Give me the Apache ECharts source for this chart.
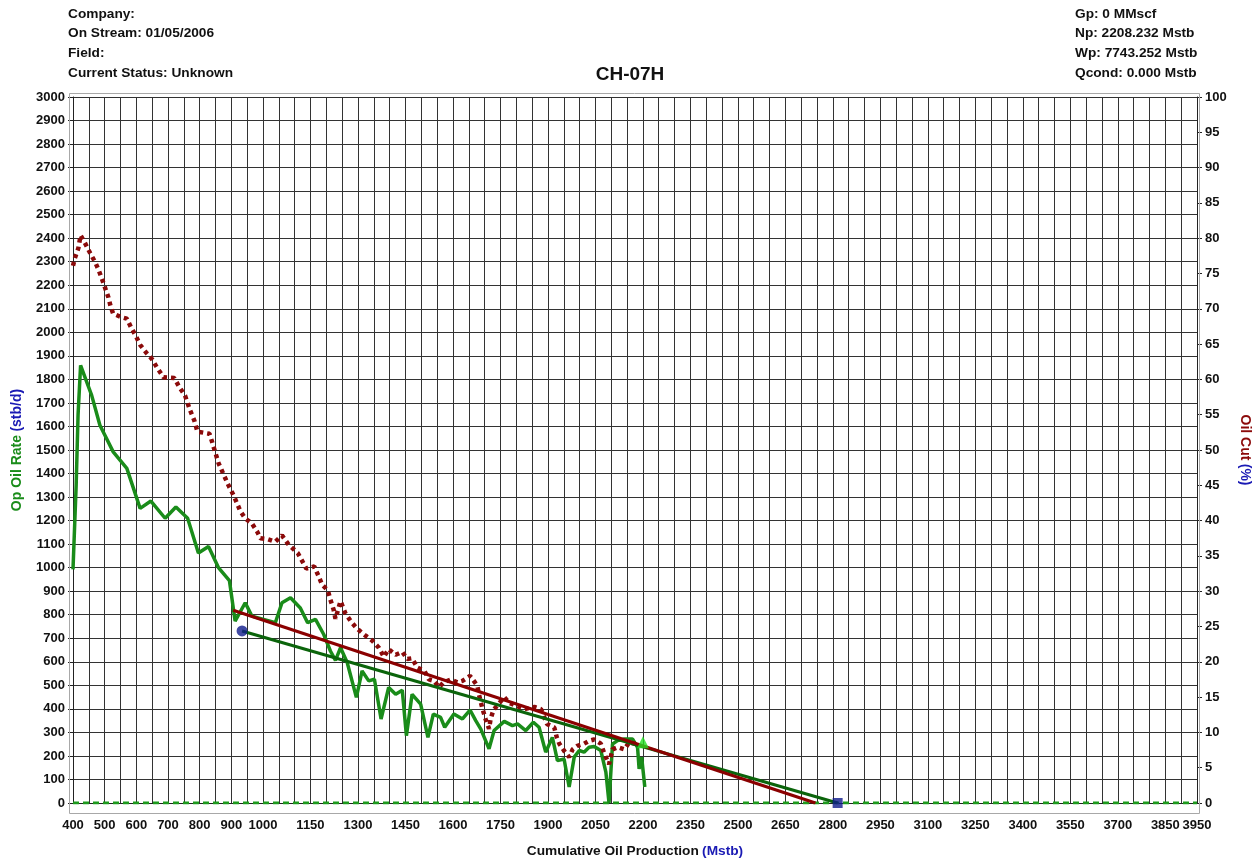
<!DOCTYPE html>
<html>
<head>
<meta charset="utf-8">
<script src="https://cdn.jsdelivr.net/npm/echarts@6/dist/echarts.min.js"></script>
<style>
  html, body { margin: 0; padding: 0; background: #fff; }
  #chart { width: 1260px; height: 863px; }
</style>
</head>
<body>
<div id="chart"></div>
<script>
// op oil rate (stb/d) vs cumulative oil (Mstb)
const rateCum = [400, 410, 416, 424, 459, 485, 527, 570, 612, 646, 691, 725, 762, 796, 828, 860, 894, 912, 944, 965,
  1039, 1060, 1087, 1118, 1141, 1166, 1192, 1213, 1229, 1245, 1266, 1295, 1313, 1334, 1352, 1373, 1397, 1419, 1440, 1453,
  1471, 1498, 1521, 1538, 1561, 1574, 1603, 1630, 1654, 1672, 1688, 1714, 1730, 1762, 1788, 1804, 1830, 1854, 1872, 1893,
  1914, 1930, 1951, 1967, 1983, 1999, 2014, 2030, 2046, 2067, 2083, 2093, 2104, 2120, 2141, 2167, 2183, 2188, 2196, 2206]
const rateVal = [993, 1350, 1650, 1860, 1732, 1605, 1492, 1422, 1252, 1283, 1210, 1258, 1210, 1062, 1090, 999, 945, 773, 851, 794,
  766, 851, 872, 829, 766, 780, 716, 646, 606, 660, 597, 449, 561, 519, 526, 357, 491, 462, 479, 286,
  462, 420, 279, 378, 364, 322, 378, 357, 395, 350, 314, 230, 308, 347, 329, 336, 308, 343, 322, 216,
  279, 180, 187, 68, 195, 223, 216, 237, 240, 223, 131, 0, 251, 265, 272, 272, 237, 145, 195, 68]

// oil cut (%) vs cumulative oil (Mstb)
const cutCum = [400, 406, 417, 424, 438, 454, 470, 480, 491, 501, 512, 519, 527, 554, 570, 583, 599, 612, 633, 649,
  665, 686, 720, 736, 754, 770, 783, 793, 831, 839, 849, 860, 876, 891, 907, 928, 944, 965, 981, 992,
  1013, 1039, 1060, 1081, 1110, 1137, 1162, 1176, 1187, 1205, 1213, 1223, 1229, 1245, 1260, 1278, 1297, 1324, 1345, 1366,
  1382, 1397, 1419, 1440, 1456, 1471, 1487, 1510, 1524, 1540, 1556, 1571, 1593, 1614, 1630, 1654, 1666, 1677, 1682, 1693,
  1703, 1714, 1719, 1728, 1740, 1762, 1777, 1798, 1825, 1857, 1878, 1897, 1920, 1928, 1936, 1951, 1967, 1978, 1993, 2014,
  2030, 2046, 2067, 2078, 2093, 2104, 2120, 2141, 2157, 2172, 2188]
const cutVal = [76.1, 77.2, 78.6, 80.4, 79.3, 77.9, 76.6, 75.6, 74.3, 73.0, 71.6, 70.3, 69.3, 68.8, 68.6, 67.4, 66.1, 64.9, 63.7, 62.9,
  61.7, 60.3, 60.2, 58.9, 57.7, 55.6, 54.2, 52.6, 52.3, 51.2, 49.7, 48.1, 46.5, 45.0, 43.6, 41.4, 40.3, 39.6, 38.5, 37.5,
  37.4, 37.0, 37.9, 36.6, 35.4, 33.2, 33.5, 32.1, 30.9, 30.1, 28.8, 27.4, 26.1, 28.6, 26.9, 25.7, 24.7, 23.7, 23.0, 22.0,
  20.7, 21.8, 21.0, 21.4, 20.4, 20.5, 19.2, 18.7, 17.5, 17.3, 16.4, 17.1, 17.5, 17.1, 17.3, 18.0, 17.3, 16.6, 15.4, 13.4,
  11.9, 10.5, 11.9, 13.2, 13.8, 15.0, 14.2, 13.8, 13.3, 13.6, 13.3, 11.2, 10.7, 9.3, 8.4, 7.4, 6.5, 7.6, 8.1, 8.4,
  8.8, 9.0, 8.4, 7.0, 5.5, 7.6, 7.9, 7.6, 8.6, 8.4, 8.4]

// decline fits
const rateFitCum = [934, 2815]
const rateFitVal = [731, 0]
const cutFitCum = [906, 2745]
const cutFitVal = [27.3, 0]
const zeroCum = [400, 3950]
const zeroVal = [0, 0]
const lastPoint = [2200, 258]

const headerLeft = ['Company:', 'On Stream: 01/05/2006', 'Field:', 'Current Status: Unknown']
const headerRight = ['Gp: 0 MMscf', 'Np: 2208.232 Mstb', 'Wp: 7743.252 Mstb', 'Qcond: 0.000 Mstb']

const zip = (a, b) => a.map((v, i) => [v, b[i]])

const FONT = '"Liberation Sans", Arial, sans-serif'
const GREEN = '#1a8c1a'
const DARKRED = '#8b0a0a'
const BLUE = '#1a1ab4'

const xLabel = (v) => {
  if (v <= 1000 && v % 100 === 0) return String(v)
  if (v > 1000 && (v - 1000) % 150 === 0) return String(v)
  if (v === 3950) return '3950'
  return ''
}

const headerText = (lines, left) => lines.map((t, i) => ({
  type: 'text',
  left: left,
  top: 7 + i * 19.7,
  style: { text: t, font: 'bold 13.7px ' + FONT, fill: '#111' },
}))

const myChart = echarts.init(document.getElementById('chart'))
const option = {
  animation: false,
  backgroundColor: '#fff',
  title: {
    text: 'CH-07H',
    left: 'center',
    top: 60,
    textStyle: { fontFamily: FONT, fontWeight: 'bold', fontSize: 19, color: '#111' },
  },
  grid: { left: 73, right: 63, top: 97, bottom: 54 },
  graphic: [
    ...headerText(headerLeft, 68),
    ...headerText(headerRight, 1075),
    {
      type: 'rect',
      shape: { x: 69.5, y: 93.5, width: 1130, height: 720 },
      style: { fill: null, stroke: '#a8a8a8', lineWidth: 1 },
      z: 1,
    },
  ],
  xAxis: {
    type: 'value',
    min: 400,
    max: 3950,
    interval: 50,
    name: '{a|Cumulative Oil Production} {b|(Mstb)}',
    nameLocation: 'middle',
    nameGap: 41,
    nameTextStyle: {
      rich: {
        a: { fontFamily: FONT, fontWeight: 'bold', fontSize: 13.7, color: '#111' },
        b: { fontFamily: FONT, fontWeight: 'bold', fontSize: 13.7, color: BLUE },
      },
    },
    axisLine: { onZero: false, lineStyle: { color: '#222', width: 1 } },
    axisTick: { show: false },
    axisLabel: {
      formatter: xLabel,
      margin: 16,
      fontFamily: FONT,
      fontWeight: 'bold',
      fontSize: 13,
      color: '#111',
      showMinLabel: true,
      showMaxLabel: true,
    },
    splitLine: { show: true, lineStyle: { color: '#333', width: 1 } },
  },
  yAxis: [
    {
      type: 'value',
      min: 0,
      max: 3000,
      interval: 100,
      name: '{a|Op Oil Rate} {b|(stb/d)}',
      nameLocation: 'middle',
      nameRotate: 90,
      nameGap: 49,
      nameTextStyle: {
        rich: {
          a: { fontFamily: FONT, fontWeight: 'bold', fontSize: 14, color: GREEN },
          b: { fontFamily: FONT, fontWeight: 'bold', fontSize: 14, color: BLUE },
        },
      },
      axisLine: { show: true, lineStyle: { color: '#222', width: 1 } },
      axisTick: { show: true, length: 5, lineStyle: { color: '#222' } },
      axisLabel: { formatter: (v) => String(v), margin: 8, fontFamily: FONT, fontWeight: 'bold', fontSize: 13, color: '#111' },
      splitLine: { show: true, lineStyle: { color: '#333', width: 1 } },
    },
    {
      type: 'value',
      position: 'right',
      min: 0,
      max: 100,
      interval: 5,
      name: '{a|Oil Cut} {b|(%)}',
      nameLocation: 'middle',
      nameRotate: -90,
      nameGap: 38,
      nameTextStyle: {
        rich: {
          a: { fontFamily: FONT, fontWeight: 'bold', fontSize: 14, color: DARKRED },
          b: { fontFamily: FONT, fontWeight: 'bold', fontSize: 14, color: BLUE },
        },
      },
      axisLine: { show: true, lineStyle: { color: '#222', width: 1 } },
      axisTick: { show: true, length: 5, lineStyle: { color: '#222' } },
      axisLabel: { formatter: (v) => String(v), margin: 8, fontFamily: FONT, fontWeight: 'bold', fontSize: 13, color: '#111' },
      splitLine: { show: false },
    },
  ],
  series: [
    {
      name: 'zero',
      type: 'line',
      data: zip(zeroCum, zeroVal),
      symbol: 'none',
      lineStyle: { color: '#1e9a1e', width: 3, type: [6, 4] },
      z: 2,
    },
    {
      name: 'Op Oil Rate',
      type: 'line',
      data: zip(rateCum, rateVal),
      symbol: 'none',
      lineStyle: { color: GREEN, width: 3.5 },
      z: 3,
    },
    {
      name: 'Oil Cut',
      type: 'line',
      yAxisIndex: 1,
      data: zip(cutCum, cutVal),
      symbol: 'none',
      lineStyle: { color: DARKRED, width: 4.5, type: [4, 4], cap: 'butt' },
      z: 4,
    },
    {
      name: 'Rate fit',
      type: 'line',
      data: zip(rateFitCum, rateFitVal),
      symbol: 'none',
      lineStyle: { color: '#0b640b', width: 3 },
      z: 5,
    },
    {
      name: 'Cut fit',
      type: 'line',
      yAxisIndex: 1,
      data: zip(cutFitCum, cutFitVal),
      symbol: 'none',
      lineStyle: { color: '#8b0000', width: 3 },
      z: 5,
    },
    {
      name: 'fit start',
      type: 'scatter',
      data: [[rateFitCum[0], rateFitVal[0]]],
      symbol: 'circle',
      symbolSize: 11,
      itemStyle: { color: '#101c8c' },
      z: 6,
    },
    {
      name: 'fit end',
      type: 'scatter',
      data: [[rateFitCum[1], rateFitVal[1]]],
      symbol: 'rect',
      symbolSize: 10,
      itemStyle: { color: '#101c8c' },
      z: 6,
    },
    {
      name: 'last',
      type: 'scatter',
      data: [lastPoint],
      symbol: 'triangle',
      symbolSize: 12,
      itemStyle: { color: '#22e022' },
      z: 6,
    },
  ],
}
myChart.setOption(option)
</script>
</body>
</html>
